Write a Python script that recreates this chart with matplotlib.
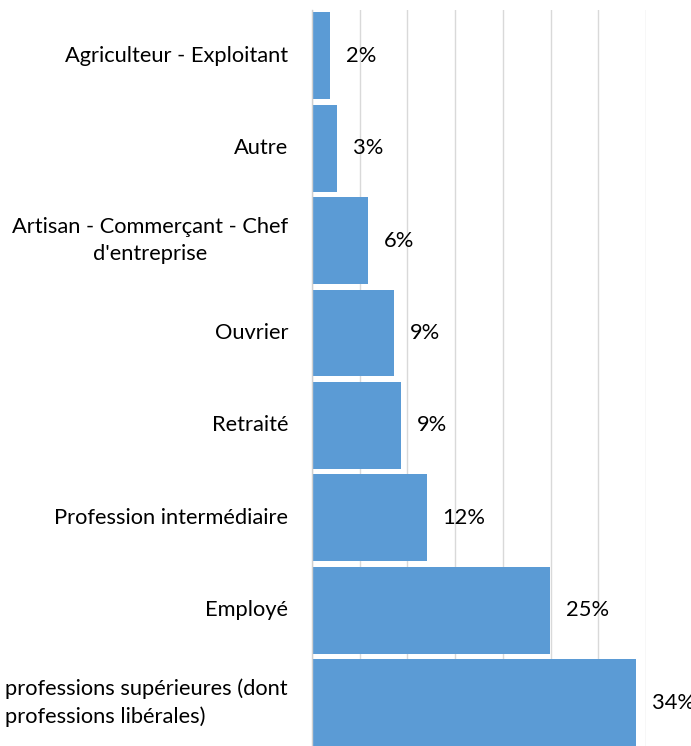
import matplotlib
matplotlib.use("Agg")
import matplotlib.pyplot as plt

categories = [
    "Agriculteur - Exploitant",
    "Autre",
    "Artisan - Commerçant - Chef\nd'entreprise",
    "Ouvrier",
    "Retraité",
    "Profession intermédiaire",
    "Employé",
    "professions supérieures (dont\nprofessions libérales)",
]
values = [1.9, 2.6, 5.9, 8.6, 9.3, 12.0, 24.9, 34.0]
value_labels = ["2%", "3%", "6%", "9%", "9%", "12%", "25%", "34%"]
x_ticks = [0, 5, 10, 15, 20, 25, 30, 35]

W, H = 691, 746
FONT = "Lato"
BAR = "#5b9bd5"
GRID = "#d9d9d9"
TXT = "#000000"

fig = plt.figure(figsize=(W / 100, H / 100), dpi=100)

# fit font size so that the reference label width (~224 px) matches
r = fig.canvas.get_renderer()
t = fig.text(0, 0, "Agriculteur - Exploitant", fontsize=10, family=FONT)
w10 = t.get_window_extent(renderer=r).width
t.remove()
fs = 10 * 224.0 / w10

ax = fig.add_axes([312 / W, (H - 749) / H, (646 - 312) / W, 739.5 / H])
ys = list(range(len(categories)))
ax.barh(ys, values, height=0.94, color=BAR, zorder=2)
ax.set_ylim(len(categories) - 0.5, -0.5)
ax.set_xlim(0, 35)
ax.set_xticks(x_ticks)
ax.set_yticks([])
ax.tick_params(axis="x", length=0, labelbottom=False)
ax.grid(axis="x", color=GRID, linewidth=1.0, zorder=0)
ax.set_axisbelow(True)
for s in ["top", "right", "bottom"]:
    ax.spines[s].set_visible(False)
ax.spines["left"].set_color("#d0d0d0")
ax.spines["left"].set_linewidth(1.0)
ax.spines["left"].set_zorder(3)

for i, (cat, v, lab) in enumerate(zip(categories, values, value_labels)):
    ax.annotate(lab, xy=(v, i), xytext=(16, 0), textcoords="offset pixels",
                ha="left", va="center", fontsize=fs, family=FONT, color=TXT,
                annotation_clip=False)
    ma = "left" if i == len(categories) - 1 else "center"
    ax.annotate(cat, xy=(0, i), xytext=(-24, 0), textcoords="offset pixels",
                ha="right", va="center", multialignment=ma, fontsize=fs,
                family=FONT, color=TXT, annotation_clip=False, linespacing=1.45)

fig.savefig("out.png", dpi=100)
